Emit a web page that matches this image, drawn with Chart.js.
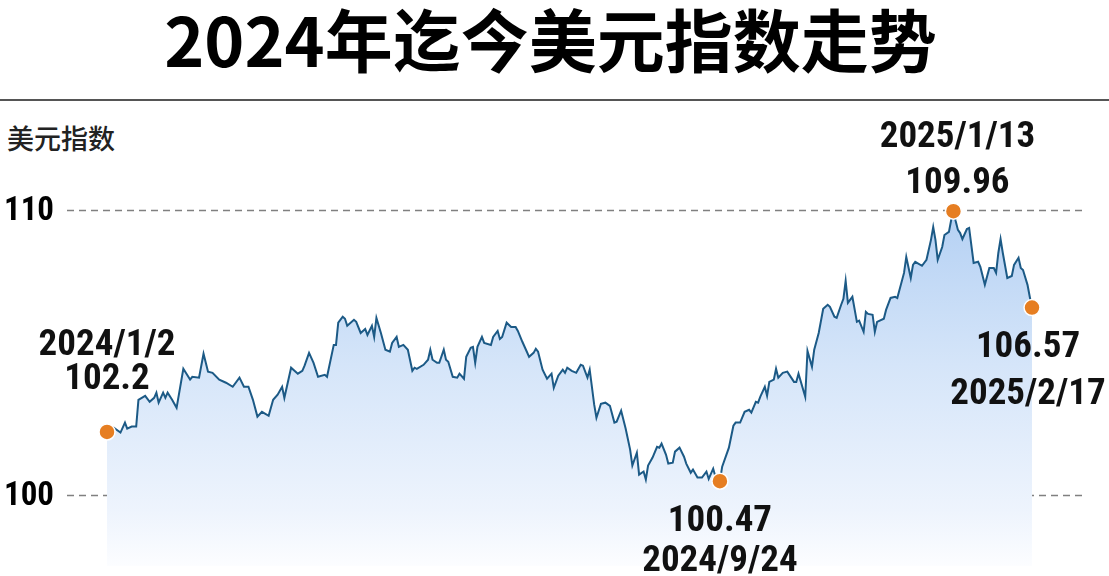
<!DOCTYPE html>
<html>
<head>
<meta charset="utf-8">
<script src="https://cdn.jsdelivr.net/npm/chart.js@4"></script>
<style>
  html, body { margin: 0; padding: 0; background: #fff; }
  #wrap { position: relative; width: 1109px; height: 576px; overflow: hidden; }
  #title {
    position: absolute; left: 0; top: 2px; width: 1101px; text-align: center;
    font-family: "Noto Sans CJK SC", sans-serif; font-weight: 700; font-size: 68px;
    line-height: 72px; color: #000;
  }
  #rule { position: absolute; left: 0; top: 99px; width: 1109px; height: 2px; background: #555; }
  #unit {
    position: absolute; left: 7px; top: 123px;
    font-family: "Noto Sans CJK SC", sans-serif; font-weight: 500; font-size: 27px;
    line-height: 29px; color: #222;
  }
  canvas { position: absolute; left: 0; top: 0; }
</style>
</head>
<body>
<div id="wrap">
  <div id="title">2024年迄今美元指数走势</div>
  <div id="rule"></div>
  <div id="unit">美元指数</div>
  <canvas id="myChart" width="1109" height="576"></canvas>
</div>
<script>
// days since 2024/1/2, and the dollar index
const days = [
  0, 3, 6, 8, 9, 11, 13, 14, 17, 19,
  21, 22, 23, 25, 26, 27, 29, 31, 34, 37,
  38, 41, 43, 45, 47, 50, 53, 56, 59, 61,
  63, 65, 67, 69, 72, 74, 76, 78, 79, 82,
  85, 87, 88, 90, 92, 94, 97, 98, 101, 102,
  103, 105, 106, 107, 110, 111, 113, 115, 116, 118,
  119, 120, 122, 124, 126, 127, 129, 130, 132, 134,
  136, 137, 138, 141, 143, 144, 145, 147, 148, 150,
  151, 152, 154, 156, 157, 159, 160, 162, 163, 164,
  165, 167, 168, 171, 172, 174, 175, 176, 178, 180,
  182, 183, 185, 187, 188, 190, 191, 192, 194, 196,
  198, 199, 201, 203, 204, 205, 207, 209, 211, 212,
  214, 215, 217, 218, 220, 222, 224, 226, 227, 229,
  231, 233, 234, 236, 237, 239, 240, 241, 243, 245,
  246, 247, 249, 250, 252, 253, 255, 257, 258, 260,
  261, 263, 265, 267, 268, 270, 271, 273, 274, 277,
  279, 280, 282, 284, 286, 287, 289, 290, 291, 293,
  294, 295, 297, 298, 299, 301, 303, 306, 307, 308,
  311, 312, 314, 315, 317, 319, 321, 322, 324, 325,
  327, 328, 329, 330, 332, 334, 335, 337, 338, 339,
  341, 342, 343, 346, 347, 349, 351, 352, 355, 356,
  358, 359, 360, 363, 365, 367, 368, 369, 370, 372,
  373, 375, 376, 377, 378, 379, 380, 381, 383, 384,
  386, 388, 389, 391, 393, 395, 396, 397, 398, 399,
  401, 403, 404, 406, 407, 408, 410, 411, 412
];
const dxy = [
  102.2, 102.35, 102.18, 102.53, 102.32, 102.39, 102.39, 103.33, 103.47, 103.26,
  103.40, 103.58, 103.23, 103.58, 103.40, 103.58, 103.33, 103.05, 104.42, 104.04,
  104.14, 104.11, 104.95, 104.32, 104.28, 104.04, 103.93, 103.79, 104.11, 103.79,
  103.79, 103.33, 102.74, 102.91, 102.77, 103.33, 103.51, 103.79, 103.40, 104.46,
  104.25, 104.35, 104.53, 104.98, 104.63, 104.14, 104.21, 104.14, 105.26, 105.26,
  106.04, 106.25, 106.18, 105.93, 106.14, 106.07, 105.68, 105.82, 105.61, 105.93,
  105.54, 106.21, 105.68, 105.09, 105.02, 105.33, 105.54, 105.19, 105.26, 105.09,
  104.35, 104.46, 104.42, 104.56, 104.74, 105.09, 104.74, 104.63, 104.63, 105.09,
  104.74, 104.67, 104.14, 104.11, 104.25, 104.07, 104.84, 105.16, 105.19, 104.63,
  105.19, 105.54, 105.33, 105.26, 105.54, 105.75, 105.47, 105.54, 106.04, 105.89,
  105.89, 105.75, 105.37, 105.02, 104.84, 104.98, 105.12, 105.02, 104.39, 104.07,
  104.25, 103.75, 104.18, 104.39, 104.28, 104.46, 104.35, 104.28, 104.56, 104.53,
  104.11, 104.39, 103.16, 102.70, 103.19, 103.23, 103.12, 102.53, 102.56, 102.95,
  102.32, 101.58, 101.02, 101.47, 100.70, 100.81, 100.53, 101.02, 101.30, 101.68,
  101.65, 101.79, 101.40, 101.09, 101.12, 101.51, 101.65, 101.33, 101.09, 100.77,
  100.88, 100.60, 100.60, 100.81, 100.55, 100.91, 100.63, 100.47, 100.98, 101.65,
  102.42, 102.53, 102.53, 102.91, 102.98, 102.88, 103.26, 103.23, 103.44, 103.79,
  103.47, 103.96, 104.04, 104.42, 104.11, 104.28, 104.32, 103.96, 103.96, 104.25,
  103.44, 105.05, 104.49, 105.09, 105.68, 106.53, 106.67, 106.60, 106.25, 106.21,
  106.67, 106.88, 107.51, 106.74, 106.95, 106.07, 106.11, 105.72, 106.42, 106.35,
  106.32, 105.72, 106.07, 106.18, 106.49, 106.91, 106.95, 106.91, 107.79, 108.35,
  107.61, 108.07, 108.18, 108.04, 108.25, 108.95, 109.40, 108.95, 108.25, 108.70,
  109.12, 109.23, 109.65, 109.96, 109.61, 109.30, 109.19, 108.98, 109.33, 109.37,
  108.14, 108.18, 108.00, 107.37, 107.96, 107.96, 107.79, 108.49, 108.98, 108.49,
  107.61, 107.68, 108.07, 108.32, 107.96, 107.89, 107.37, 106.95, 106.57
];
const yTicks = [110, 100];
// marked points: start, low, high, end
const markDates = ['2024/1/2', '2024/9/24', '2025/1/13', '2025/2/17'];

const NUM_FONT = "'Liberation Sans Narrow', 'Roboto Condensed', 'DejaVu Sans Condensed', sans-serif";

const iLow = dxy.indexOf(Math.min(...dxy));
const iHigh = dxy.indexOf(Math.max(...dxy));
const marks = [0, iLow, iHigh, dxy.length - 1];

const points = days.map((d, i) => ({ x: d, y: dxy[i] }));

// label offsets around each marked point
const labelPos = [
  { dateDy: -77, valDy: -43, dx: 0 },
  { dateDy: 90, valDy: 50, dx: 0 },
  { dateDy: -64, valDy: -18, dx: 4 },
  { dateDy: 96, valDy: 49, dx: -4 }
];

const refLines = {
  id: 'refLines',
  beforeDatasetsDraw(chart) {
    const ctx = chart.ctx;
    const y = chart.scales.y;
    ctx.save();
    yTicks.forEach(t => {
      const py = Math.round(y.getPixelForValue(t)) + 0.5;
      ctx.strokeStyle = '#808080';
      ctx.lineWidth = 1.3;
      ctx.setLineDash([7, 5]);
      ctx.beginPath();
      ctx.moveTo(67, py);
      ctx.lineTo(1085, py);
      ctx.stroke();
      ctx.setLineDash([]);
      ctx.fillStyle = '#000';
      ctx.font = 'bold 33px ' + NUM_FONT;
      ctx.textAlign = 'left';
      ctx.textBaseline = 'middle';
      ctx.fillText(String(t), 4, py + 1);
    });
    ctx.restore();
  }
};

const markLabels = {
  id: 'markLabels',
  afterDatasetsDraw(chart) {
    const ctx = chart.ctx;
    const meta = chart.getDatasetMeta(0);
    ctx.save();
    ctx.fillStyle = '#111';
    ctx.font = 'bold 37px ' + NUM_FONT;
    ctx.textAlign = 'center';
    ctx.textBaseline = 'alphabetic';
    marks.forEach((idx, k) => {
      const pt = meta.data[idx];
      const p = labelPos[k];
      ctx.fillText(markDates[k], pt.x + p.dx, pt.y + p.dateDy);
      ctx.fillText(String(dxy[idx]), pt.x + p.dx, pt.y + p.valDy);
    });
    ctx.restore();
  }
};

const ctx = document.getElementById('myChart').getContext('2d');
new Chart(ctx, {
  type: 'line',
  data: {
    datasets: [{
      data: points,
      borderColor: '#1c5a86',
      borderWidth: 2,
      tension: 0,
      fill: 'start',
      clip: false,
      backgroundColor: c => {
        const area = c.chart.chartArea;
        if (!area) return 'rgba(190,215,245,0.6)';
        const g = c.chart.ctx.createLinearGradient(0, area.top, 0, area.bottom);
        g.addColorStop(0, '#b2cff3');
        g.addColorStop(0.45, '#d5e5f9');
        g.addColorStop(0.85, '#eef4fd');
        g.addColorStop(1, '#fcfdff');
        return g;
      },
      pointRadius: c => marks.includes(c.dataIndex) ? 8 : 0,
      pointHoverRadius: 0,
      pointBackgroundColor: '#e67e22',
      pointBorderColor: '#fff',
      pointBorderWidth: 1.5
    }]
  },
  options: {
    responsive: false,
    animation: false,
    devicePixelRatio: 1,
    layout: { padding: { left: 107, right: 77, top: 200, bottom: 0 } },
    scales: {
      x: { type: 'linear', min: 0, max: 412, display: false },
      y: { min: 97.474, max: 110.351, display: false }
    },
    plugins: {
      legend: { display: false },
      tooltip: { enabled: false }
    }
  },
  plugins: [refLines, markLabels]
});
</script>
</body>
</html>
